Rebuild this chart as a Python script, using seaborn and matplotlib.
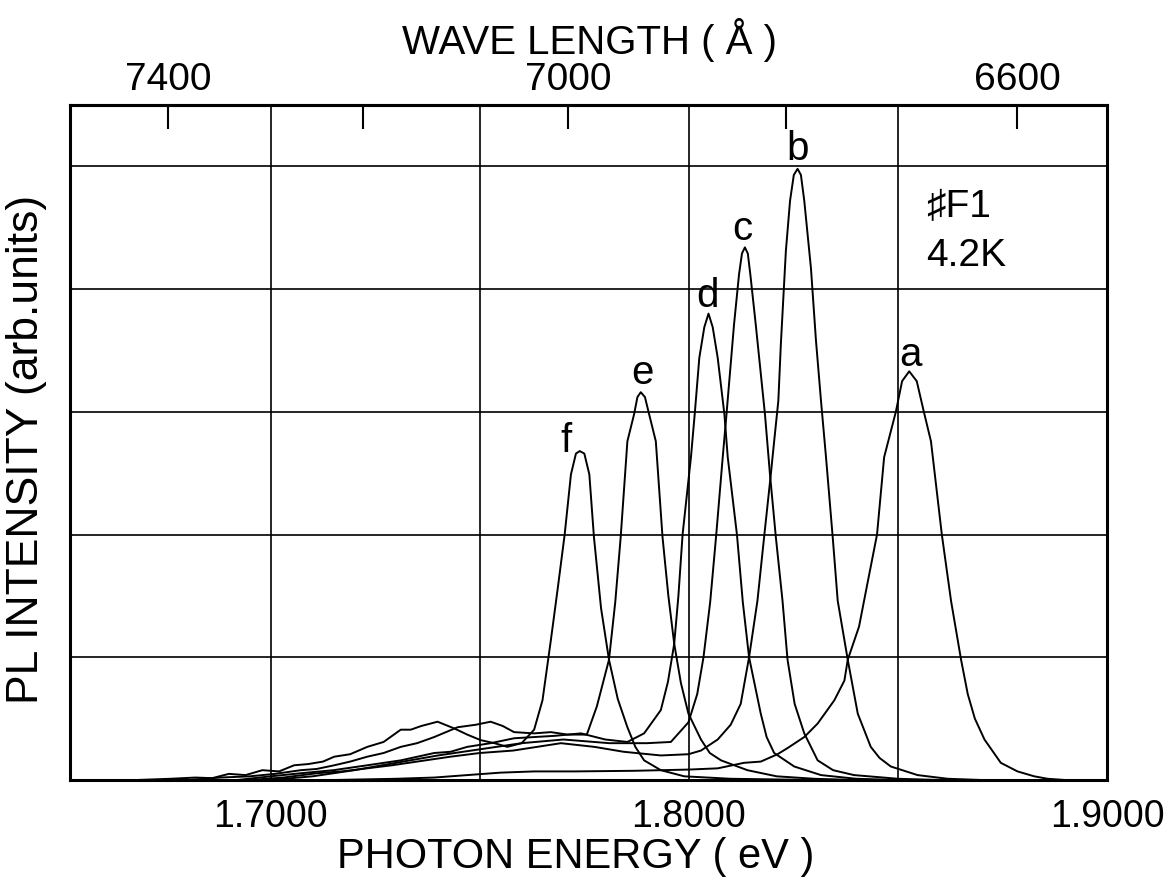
import numpy as np
import pandas as pd
import matplotlib
matplotlib.use("Agg")
import matplotlib.pyplot as plt
import seaborn as sns

# Espectros PL (energia en eV, intensidad en unidades arbitrarias)
f_E = [1.652, 1.668, 1.676, 1.682, 1.686, 1.690, 1.694, 1.698, 1.702, 1.7056, 1.709, 1.7125, 1.7152, 1.719,
       1.7231, 1.727, 1.7311, 1.7335, 1.736, 1.7399, 1.7439, 1.747, 1.7502, 1.7535, 1.7566, 1.760, 1.763,
       1.765, 1.767, 1.7686, 1.7703, 1.7718, 1.7730, 1.7739, 1.7750, 1.7762, 1.7773, 1.7790, 1.7809, 1.7830,
       1.7853, 1.7872, 1.7893, 1.7933, 1.7989, 1.810, 1.830, 1.900]
f_I = [0.0, 0.0, 0.01, 0.02, 0.015, 0.05, 0.04, 0.08, 0.07, 0.12, 0.13, 0.15, 0.19, 0.21,
       0.27, 0.31, 0.41, 0.41, 0.44, 0.475, 0.42, 0.37, 0.325, 0.30, 0.27, 0.30, 0.41,
       0.65, 1.14, 1.55, 2.0, 2.49, 2.66, 2.68, 2.66, 2.49, 1.98, 1.40, 0.98, 0.66,
       0.43, 0.27, 0.16, 0.08, 0.03, 0.01, 0.0, 0.0]

e_E = [1.652, 1.680, 1.688, 1.695, 1.701, 1.7072, 1.711, 1.7152, 1.719, 1.7231, 1.727, 1.7311, 1.735, 1.7391,
       1.7447, 1.749, 1.7526, 1.7555, 1.7582, 1.763, 1.767, 1.7710, 1.7756, 1.7780, 1.7809, 1.7824, 1.7837,
       1.7853, 1.7869, 1.7877, 1.7885, 1.7895, 1.7905, 1.7921, 1.7937, 1.7951, 1.7965, 1.7981, 1.7999, 1.8029,
       1.8050, 1.8077, 1.814, 1.821, 1.830, 1.840, 1.900]
e_I = [0.0, 0.0, 0.02, 0.03, 0.05, 0.08, 0.09, 0.12, 0.15, 0.19, 0.22, 0.27, 0.30, 0.35,
       0.43, 0.45, 0.475, 0.44, 0.39, 0.38, 0.39, 0.37, 0.37, 0.60, 0.98, 1.45, 1.98,
       2.76, 2.98, 3.12, 3.16, 3.12, 2.98, 2.76, 1.98, 1.50, 1.11, 0.79, 0.54, 0.33,
       0.22, 0.16, 0.08, 0.03, 0.01, 0.0, 0.0]

d_E = [1.652, 1.692, 1.700, 1.7072, 1.715, 1.7231, 1.7311, 1.7391, 1.743, 1.7470, 1.7526, 1.7582, 1.763,
       1.768, 1.7742, 1.780, 1.7853, 1.7893, 1.7933, 1.7950, 1.7965, 1.7975, 1.7985, 1.8005, 1.8014, 1.8025,
       1.8037, 1.8047, 1.8057, 1.8069, 1.8085, 1.8093, 1.8115, 1.8129, 1.8144, 1.8172, 1.8186, 1.8204, 1.8252,
       1.8316, 1.840, 1.850, 1.900]
d_I = [0.0, 0.0, 0.03, 0.055, 0.08, 0.12, 0.16, 0.22, 0.23, 0.27, 0.30, 0.34, 0.35,
       0.36, 0.38, 0.33, 0.31, 0.38, 0.57, 0.80, 1.11, 1.50, 2.0, 2.63, 2.98, 3.44,
       3.69, 3.80, 3.69, 3.44, 2.98, 2.63, 2.0, 1.45, 1.0, 0.54, 0.35, 0.22, 0.11,
       0.04, 0.01, 0.0, 0.0]

c_E = [1.652, 1.700, 1.710, 1.720, 1.730, 1.740, 1.750, 1.760, 1.770, 1.781, 1.790, 1.7957, 1.7999, 1.8020,
       1.8035, 1.8051, 1.8065, 1.8081, 1.8090, 1.8108, 1.8120, 1.8127, 1.8134, 1.8141, 1.8147, 1.8160, 1.8182,
       1.8194, 1.8208, 1.8224, 1.8236, 1.8253, 1.8276, 1.8308, 1.8345, 1.8395, 1.850, 1.860, 1.900]
c_I = [0.0, 0.0, 0.03, 0.08, 0.14, 0.20, 0.25, 0.30, 0.33, 0.30, 0.30, 0.31, 0.47, 0.70,
       1.0, 1.45, 1.98, 2.63, 2.98, 3.71, 4.12, 4.29, 4.34, 4.29, 4.12, 3.71, 2.98,
       2.49, 1.98, 1.46, 0.98, 0.62, 0.38, 0.16, 0.08, 0.04, 0.01, 0.0, 0.0]

b_E = [1.652, 1.695, 1.703, 1.711, 1.717, 1.723, 1.729, 1.735, 1.743, 1.750, 1.758, 1.7694, 1.7774, 1.7844,
       1.7933, 1.7999, 1.8029, 1.8069, 1.8100, 1.8124, 1.8144, 1.8164, 1.8180, 1.8196, 1.8204, 1.8214, 1.8220,
       1.8232, 1.8242, 1.8251, 1.8260, 1.8268, 1.8276, 1.8292, 1.8304, 1.8316, 1.8328, 1.8344, 1.8356, 1.8380,
       1.8404, 1.8435, 1.8456, 1.8483, 1.8547, 1.8619, 1.870, 1.900]
b_I = [0.0, 0.0, 0.02, 0.055, 0.07, 0.095, 0.12, 0.15, 0.19, 0.22, 0.24, 0.30, 0.27, 0.23,
       0.20, 0.21, 0.24, 0.33, 0.45, 0.62, 1.0, 1.46, 1.98, 2.49, 2.76, 3.09, 3.55,
       4.31, 4.72, 4.93, 4.98, 4.93, 4.72, 4.17, 3.58, 3.09, 2.63, 1.98, 1.46, 0.98,
       0.54, 0.27, 0.18, 0.11, 0.04, 0.01, 0.0, 0.0]

a_E = [1.652, 1.715, 1.730, 1.7391, 1.747, 1.755, 1.763, 1.7727, 1.7869, 1.800, 1.8069, 1.8132, 1.8172, 1.8212,
       1.8236, 1.8276, 1.8308, 1.8348, 1.8372, 1.8380, 1.8407, 1.8427, 1.8450, 1.8467, 1.8495, 1.8510, 1.8527,
       1.8545, 1.8562, 1.8579, 1.8605, 1.8627, 1.8651, 1.8667, 1.8684, 1.8707, 1.8746, 1.8786, 1.8826, 1.8858,
       1.890, 1.900]
a_I = [0.0, 0.0, 0.01, 0.02, 0.04, 0.06, 0.07, 0.07, 0.075, 0.085, 0.095, 0.14, 0.15, 0.21,
       0.26, 0.35, 0.46, 0.65, 0.81, 0.98, 1.25, 1.6, 2.0, 2.63, 3.0, 3.25, 3.33,
       3.25, 3.0, 2.76, 2.0, 1.46, 0.98, 0.7, 0.50, 0.33, 0.14, 0.07, 0.03, 0.01,
       0.0, 0.0]

# Etiquetas de cada pico (posicion en eV, intensidad)
peak_names = ["a", "b", "c", "d", "e", "f"]
peak_label_E = [1.8531, 1.8261, 1.8129, 1.8045, 1.7890, 1.7706]
peak_label_I = [3.46, 5.14, 4.49, 3.94, 3.32, 2.76]

# Ejes
energy_ticks = [1.70, 1.75, 1.80, 1.85, 1.90]
energy_labels = ["1.7000", "", "1.8000", "", "1.9000"]
intensity_grid = [1, 2, 3, 4, 5]
wl_major = [7400, 7000, 6600]
wl_minor = [7200, 6800]
HC = 12398.4   # eV * Angstrom

sns.set_style("white")
plt.rcParams['font.family'] = ['Liberation Sans', 'DejaVu Sans']
plt.rcParams.update({"text.color": "black", "axes.labelcolor": "black",
                     "xtick.color": "black", "ytick.color": "black"})

fig = plt.figure(figsize=(11.74, 8.8), dpi=100)
ax = fig.add_axes([70 / 1174, 1 - 780 / 880, (1107 - 70) / 1174, (780 - 105) / 880])

curves = [(a_E, a_I), (b_E, b_I), (c_E, c_I), (d_E, d_I), (e_E, e_I), (f_E, f_I)]
for E, I in curves:
    sns.lineplot(x=E, y=I, ax=ax, color="black", linewidth=1.4, sort=False, estimator=None)

for name, xe, yi in zip(peak_names, peak_label_E, peak_label_I):
    ax.text(xe, yi, name, ha="center", va="center", fontsize=29)

ax.text(1.8567, 4.67, "♯F1", ha="left", va="center", fontsize=28)
ax.text(1.8567, 4.27, "4.2K", ha="left", va="center", fontsize=28)

ax.set_xlim(1.652, 1.900)
ax.set_ylim(0, 5.5)
ax.set_xticks(energy_ticks)
ax.set_xticklabels(energy_labels, fontsize=27)
ax.set_yticks(intensity_grid)
ax.set_yticklabels([])
ax.tick_params(axis="both", length=0)
ax.tick_params(axis="x", pad=14)
ax.grid(True, color="black", linewidth=1.2)
for sp in ax.spines.values():
    sp.set_linewidth(2.2)
    sp.set_color("black")

ax.set_xlabel("PHOTON ENERGY ( eV )", fontsize=30)
ax.xaxis.set_label_coords(0.488, -0.084)
ax.set_ylabel("PL INTENSITY (arb.units)", fontsize=32)
ax.yaxis.set_label_coords(-0.022, 0.49)

# Eje superior en longitud de onda
sec = ax.secondary_xaxis("top", functions=(lambda e: HC / e, lambda l: HC / l))
sec.set_xticks(wl_major)
sec.set_xticklabels([str(w) for w in wl_major], fontsize=28)
sec.set_xticks(wl_minor, minor=True)
sec.tick_params(which="both", direction="in", length=17, width=1.5, pad=5)
sec.spines["top"].set_linewidth(2.2)
fig.text(590 / 1174, 1 - 54 / 880, "WAVE LENGTH ( Å )", ha="center", va="baseline", fontsize=29)

fig.savefig("out.png", dpi=100)
